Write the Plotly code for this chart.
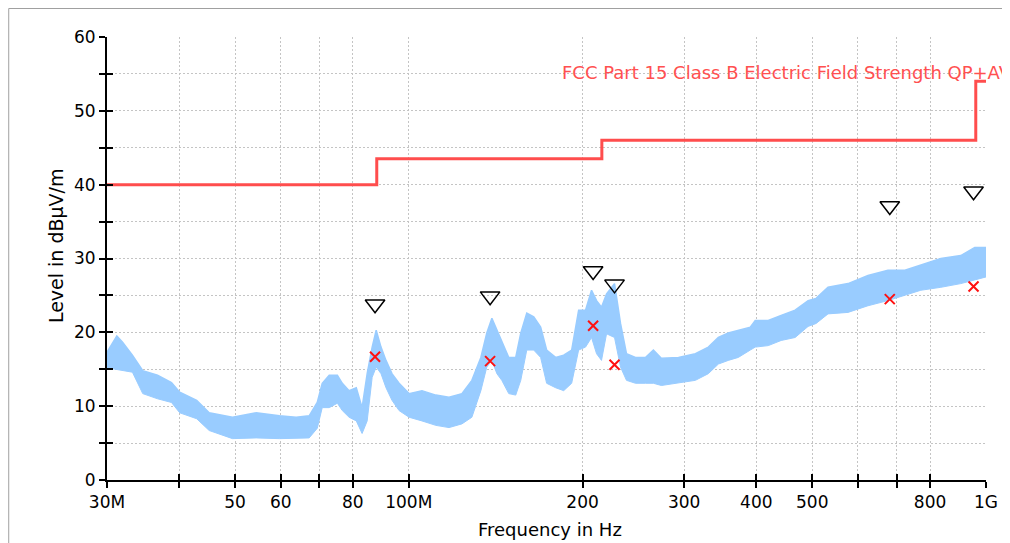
import plotly.graph_objects as go

# ---- measured spectrum (band of the noisy light-blue trace), MHz / dBuV/m ----
freq_mhz = [30.0, 31.2, 31.9, 33.2, 34.6, 36.7, 38.8, 40.1, 42.9, 45.1, 49.5, 54.4,
            59.7, 63.8, 67.2, 69.4, 70.8, 72.8, 75.2, 76.7, 78.8, 81.1, 83.0, 84.7,
            86.4, 87.8, 89.5, 91.3, 93.5, 96.2, 100.1, 105.4, 111.4, 117.4, 123.6,
            128.6, 133.3, 136.5, 139.3, 142.1, 144.9, 149.0, 153.2, 156.3, 160.1,
            164.6, 169.2, 173.3, 179.6, 185.5, 191.5, 196.9, 202.4, 207.3, 211.5,
            215.7, 220.1, 227.2, 232.7, 238.3, 247.0, 257.0, 265.3, 273.9, 293.2,
            313.7, 330.3, 343.8, 357.7, 372.2, 390.5, 398.3, 419.5, 441.7, 467.0,
            491.8, 507.7, 532.5, 576.7, 624.5, 676.3, 723.6, 771.1, 835.1, 904.3,
            956.1, 1000.0]
upper_db = [17.3, 19.5, 18.7, 16.9, 14.8, 14.2, 13.2, 11.9, 10.8, 9.1, 8.5, 9.1,
            8.7, 8.5, 8.7, 10.5, 13.1, 14.2, 14.2, 13.1, 12.1, 12.5, 9.8, 14.4,
            18.0, 20.3, 18.0, 16.2, 14.4, 13.1, 11.7, 12.1, 11.5, 11.2, 11.7,
            13.5, 16.6, 19.9, 21.9, 20.3, 18.9, 16.6, 16.6, 19.9, 22.6,
            22.1, 20.7, 17.6, 16.6, 16.9, 17.6, 23.0, 23.0, 25.7, 24.3,
            23.4, 25.2, 26.6, 21.2, 17.1, 16.6, 16.6, 17.6, 16.5, 16.6,
            17.1, 18.0, 19.3, 19.9, 20.3, 20.7, 21.6, 21.6, 22.3, 23.0,
            24.3, 24.6, 26.1, 26.6, 27.7, 28.4, 28.4, 29.1, 30.0, 30.4,
            31.5, 31.5]
lower_db = [15.2, 15.0, 14.8, 14.6, 11.7, 11.0, 10.5, 9.1, 8.3, 6.7, 5.6, 5.7,
            5.6, 5.7, 5.7, 7.0, 9.8, 9.8, 10.4, 9.4, 8.5, 8.0, 6.3, 8.0,
            13.9, 15.3, 14.4, 12.5, 10.8, 9.4, 8.5, 8.0, 7.4, 7.1, 7.6,
            8.5, 12.1, 15.3, 16.2, 14.4, 13.5, 11.7, 11.5, 13.5, 17.6,
            17.6, 16.6, 13.1, 12.5, 12.1, 13.1, 17.6, 18.0, 19.3, 17.1,
            16.2, 19.8, 19.3, 15.3, 13.5, 13.1, 13.1, 13.1, 12.8, 13.2,
            13.5, 14.4, 15.7, 16.2, 16.6, 17.6, 18.0, 18.2, 18.9, 19.3,
            20.8, 21.2, 22.5, 22.7, 23.6, 24.3, 25.0, 25.7, 26.1, 26.6,
            27.1, 27.5]

# ---- limit line (FCC Part 15 Class B) ----
limit_freq = [30, 88, 216, 960, 1000]
limit_level = [40, 43.5, 46, 54, 54]
limit_name = "FCC Part 15 Class B Electric Field Strength QP+AV"

# ---- final measurement points ----
peak_freq = [87.4, 138.3, 208.6, 227.2, 681.2, 951.5]
peak_level = [23.8, 24.9, 28.3, 26.5, 37.1, 39.1]
qp_level = [16.7, 16.1, 20.9, 15.6, 24.5, 26.2]

# ---- axes ----
x_tick_vals = [30, 40, 50, 60, 70, 80, 100, 200, 300, 400, 500, 600, 700, 800, 1000]
x_tick_text = ['30M', '', '50', '60', '', '80', '100M', '200', '300', '400', '500', '', '', '800', '1G']
y_major = [0, 10, 20, 30, 40, 50, 60]
y_minor = [5, 15, 25, 35, 45, 55]

BLUE = '#99CCFF'
RED = '#FF4D4D'
GRID = '#c4c4c4'
FONT = 'DejaVu Sans'

fig = go.Figure()
fig.add_trace(go.Scatter(x=freq_mhz, y=lower_db, mode='lines',
                         line=dict(color=BLUE, width=1), hoverinfo='skip'))
fig.add_trace(go.Scatter(x=freq_mhz, y=upper_db, mode='lines', fill='tonexty',
                         fillcolor=BLUE, line=dict(color=BLUE, width=1.5)))
fig.add_trace(go.Scatter(x=limit_freq, y=limit_level, mode='lines', line_shape='hv',
                         line=dict(color=RED, width=3)))
fig.add_trace(go.Scatter(x=peak_freq, y=peak_level, mode='markers',
                         marker=dict(symbol='triangle-down-open', size=17,
                                     color='black', line=dict(color='black', width=1.5))))
fig.add_trace(go.Scatter(x=peak_freq, y=qp_level, mode='markers',
                         marker=dict(symbol='x-thin-open', size=10,
                                     color='#FF1010', line=dict(color='#FF1010', width=2))))
# empty trace to register the overlay axes used for crossing tick marks
fig.add_trace(go.Scatter(x=[], y=[], xaxis='x2', yaxis='y2', hoverinfo='skip'))

# the page body adds an 8px offset; figure is sized so it ends at the window edge
OFF = 8
W, H = 1010 - OFF, 543 - OFF
L, T = 107 - OFF, 37 - OFF
pw, ph = 881, 443
R, B = W - L - pw, H - T - ph

def px_x(p):  # p in window pixels
    return (p - OFF - L) / pw

def px_y(p):
    return (T + ph - (p - OFF)) / ph

common_x = dict(type='log', range=[1.4771213, 3.0], tickvals=x_tick_vals,
                ticklen=6, tickwidth=2, tickcolor='black', zeroline=False)
common_y = dict(range=[0, 60], tickvals=y_major, ticklen=6, tickwidth=2,
                tickcolor='black', zeroline=False)

fig.update_layout(
    width=W, height=H, autosize=False,
    margin=dict(l=L, r=R, t=T, b=B, pad=0),
    paper_bgcolor='white', plot_bgcolor='white',
    showlegend=False,
    xaxis=dict(**common_x, ticktext=x_tick_text, ticks='outside',
               showline=True, linecolor='black', linewidth=2,
               showgrid=True, gridcolor=GRID, gridwidth=1, griddash='2px,2px',
               tickfont=dict(family=FONT, size=17, color='black')),
    xaxis2=dict(**common_x, overlaying='x', anchor='y', side='bottom', ticks='inside',
                showticklabels=False, showgrid=False, showline=False),
    yaxis=dict(**common_y, ticks='outside', showline=True, linecolor='black', linewidth=2,
               showgrid=True, gridcolor=GRID, gridwidth=1, griddash='2px,2px',
               tickfont=dict(family=FONT, size=17, color='black'),
               minor=dict(tickvals=y_minor, ticks='outside', ticklen=6, tickwidth=2,
                          tickcolor='black', showgrid=True, gridcolor=GRID,
                          gridwidth=1, griddash='2px,2px')),
    yaxis2=dict(**common_y, overlaying='y', anchor='x', side='left', ticks='inside',
                showticklabels=False, showgrid=False, showline=False,
                minor=dict(tickvals=y_minor, ticks='inside', ticklen=6, tickwidth=2,
                           tickcolor='black', showgrid=False)),
    shapes=[dict(type='rect', xref='paper', yref='paper', layer='below',
                 x0=px_x(8.5), x1=px_x(1005), y0=px_y(600), y1=px_y(8.5),
                 fillcolor='white', line=dict(color='#a0a0a0', width=1))],
    annotations=[
        dict(text='Level in dBµV/m', xref='paper', yref='paper', x=px_x(56), y=px_y(246),
             xanchor='center', yanchor='middle', textangle=-90, showarrow=False,
             font=dict(family=FONT, size=19, color='black')),
        dict(text='Frequency in Hz', xref='paper', yref='paper', x=px_x(551), y=px_y(542),
             xanchor='center', yanchor='bottom', showarrow=False,
             font=dict(family=FONT, size=18, color='black')),
        dict(text=limit_name, xref='paper', yref='paper', x=px_x(561), y=px_y(72),
             xanchor='left', yanchor='middle', showarrow=False,
             font=dict(family=FONT, size=18, color='#FF5050')),
    ],
)

fig.write_html('out.html')
